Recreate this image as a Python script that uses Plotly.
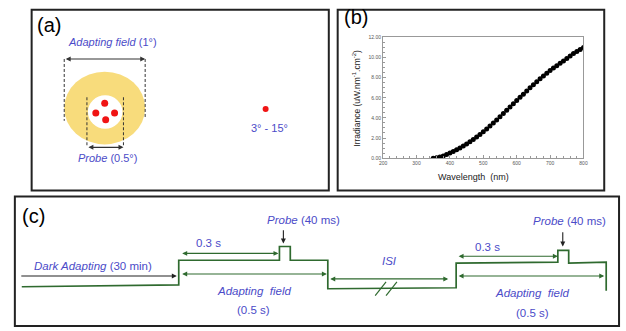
import plotly.graph_objects as go

# ---------------- data: panel (b) irradiance spectrum ----------------
wavelength_nm = list(range(350, 801, 10))
irradiance = [0.00, 0.05, 0.12, 0.22, 0.35, 0.50, 0.66, 0.83, 1.01, 1.20,
              1.40, 1.62, 1.85, 2.09, 2.35, 2.62, 2.90, 3.19, 3.49, 3.80,
              4.11, 4.43, 4.75, 5.07, 5.40, 5.72, 6.04, 6.36, 6.68, 6.99,
              7.30, 7.60, 7.89, 8.17, 8.44, 8.70, 8.95, 9.19, 9.42, 9.66,
              9.90, 10.15, 10.40, 10.60, 10.80, 11.00]
x_ticks = [200, 300, 400, 500, 600, 700, 800]
y_ticks = [0, 2, 4, 6, 8, 10, 12]
y_ticklabels = ["0.00", "2.00", "4.00", "6.00", "8.00", "10.00", "12.00"]

# ---------------- schematic geometry (pixel layout axis) ----------------
wave_x = [18, 177, 177, 279, 279, 290, 290, 328, 328, 458, 458, 561, 561, 572, 572, 610, 610]
wave_y = [289, 287, 262, 262, 248, 248, 262, 262, 291, 290, 265, 264, 252, 252, 265, 264, 293]

probe_dots_x = [102, 93, 112, 103]
probe_dots_y = [102, 112, 112, 119]
periph_dot_x = [265]
periph_dot_y = [108]

BLUE = "#4b4bc8"
GREEN = "#2f6a2f"
DARK = "#333333"
FONT = "Liberation Sans, Arial, sans-serif"

fig = go.Figure()

# panel (b) curve
fig.add_trace(go.Scatter(
    x=wavelength_nm, y=irradiance, mode="lines+markers",
    line=dict(color="black", width=1),
    marker=dict(color="black", size=5),
    xaxis="x", yaxis="y", showlegend=False, hoverinfo="skip"))

# waveform for panel (c)
fig.add_trace(go.Scatter(
    x=wave_x, y=wave_y, mode="lines",
    line=dict(color=GREEN, width=1.7),
    xaxis="x2", yaxis="y2", showlegend=False, hoverinfo="skip"))

# red probe dots
fig.add_trace(go.Scatter(
    x=probe_dots_x, y=probe_dots_y, mode="markers",
    marker=dict(color="#f01414", size=7),
    xaxis="x2", yaxis="y2", showlegend=False, hoverinfo="skip"))
fig.add_trace(go.Scatter(
    x=periph_dot_x, y=periph_dot_y, mode="markers",
    marker=dict(color="#f01414", size=6),
    xaxis="x2", yaxis="y2", showlegend=False, hoverinfo="skip"))

shapes = []
def rect(x0, y0, x1, y1, color="#222222", width=2):
    shapes.append(dict(type="rect", xref="x2", yref="y2", x0=x0, y0=y0, x1=x1, y1=y1,
                       line=dict(color=color, width=width), fillcolor="rgba(0,0,0,0)"))
def line(x0, y0, x1, y1, color=DARK, width=1, dash="solid"):
    shapes.append(dict(type="line", xref="x2", yref="y2", x0=x0, y0=y0, x1=x1, y1=y1,
                       line=dict(color=color, width=width, dash=dash)))

# panel frames
rect(28, 7, 329, 191)
rect(338, 7, 608, 191)
rect(11, 197, 623, 329)

# panel (a) circles
shapes.append(dict(type="circle", xref="x2", yref="y2", x0=61, y0=70, x1=143, y1=144,
                   line=dict(width=0), fillcolor="#f8dc7c", layer="below"))
shapes.append(dict(type="circle", xref="x2", yref="y2", x0=85, y0=94, x1=120, y1=128,
                   line=dict(width=0), fillcolor="white", layer="below"))
# dashed guides
DASH = "3px,2px"
line(61, 57, 61, 120, dash=DASH)
line(143, 57, 143, 118, dash=DASH)
line(84, 96, 84, 146, dash=DASH)
line(121, 96, 121, 146, dash=DASH)

# ISI break marks
line(376, 298, 387, 284, color=GREEN, width=1.2)
line(387, 298, 398, 284, color=GREEN, width=1.2)

annotations = []
def arrow(x0, y0, x1, y1, color=DARK, both=False):
    annotations.append(dict(
        xref="x2", yref="y2", axref="x2", ayref="y2",
        x=x1, y=y1, ax=x0, ay=y0, text="", showarrow=True,
        arrowhead=2, startarrowhead=2, arrowsize=0.9, startarrowsize=0.9,
        arrowwidth=1.1, arrowcolor=color, arrowside="end+start" if both else "end",
        standoff=0, startstandoff=0))

def text(x, y, s, size=11.5, color=BLUE, angle=0):
    annotations.append(dict(xref="x2", yref="y2", x=x, y=y, text=s, showarrow=False,
                            font=dict(family=FONT, size=size, color=color),
                            xanchor="center", yanchor="middle", textangle=angle))

# panel (a)
text(46, 22, "(a)", size=20, color="black")
text(110, 40, "<i>Adapting field</i> (1°)", size=11)
arrow(61, 57, 143, 57, both=True)
arrow(84, 147, 121, 147, both=True)
text(105, 158, "<i>Probe</i> (0.5°)", size=11)
text(269, 127, "3° - 15°", size=11)

# panel (b)
text(357, 14, "(b)", size=20, color="black")
text(476, 177, "Wavelength  (nm)", size=9, color="#222222")
text(357, 97, "Irradiance (uW.nm<sup>-1</sup>.cm<sup>-2</sup>)", size=8.5, color="#222222", angle=-90)

# panel (c)
text(30, 217, "(c)", size=20, color="black")
text(90, 268, "<i>Dark Adapting</i> (30 min)")
arrow(16, 278, 175, 278, color="#222222")
text(207, 244, "0.3 s")
arrow(179, 255, 278, 255, color=GREEN, both=True)
text(303, 221, "<i>Probe</i> (40 ms)")
arrow(283, 230, 283, 245, color="#222222")
arrow(179, 276, 327, 276, color=GREEN, both=True)
text(253, 293, "<i>Adapting  field</i>")
text(253, 313, "(0.5 s)")
text(390, 263, "<i>ISI</i>")
arrow(329, 281, 450, 281, color=GREEN, both=True)
text(490, 248, "0.3 s")
arrow(459, 258, 561, 258, color=GREEN, both=True)
text(573, 222, "<i>Probe</i> (40 ms)")
arrow(566, 232, 566, 248, color="#222222")
arrow(459, 278, 608, 278, color=GREEN, both=True)
text(535, 295, "<i>Adapting  field</i>")
text(535, 316, "(0.5 s)")

W, H = 626, 331
fig.update_layout(
    width=W, height=H, margin=dict(l=0, r=0, t=0, b=0),
    paper_bgcolor="white", plot_bgcolor="rgba(0,0,0,0)",
    shapes=shapes, annotations=annotations,
    xaxis=dict(domain=[384 / W, 587 / W], range=[200, 800], anchor="y",
               tickvals=x_ticks, ticks="inside", ticklen=3, tickcolor="#999999",
               tickfont=dict(family=FONT, size=5, color="#555555"),
               showline=True, linecolor="#999999", linewidth=1, mirror=True,
               showgrid=False, zeroline=False,
               minor=dict(dtick=20, ticks="inside", ticklen=2, tickcolor="#999999")),
    yaxis=dict(domain=[(H - 158) / H, (H - 35) / H], range=[0, 12], anchor="x",
               tickvals=y_ticks, ticktext=y_ticklabels, ticks="inside", ticklen=3,
               tickcolor="#999999", tickfont=dict(family=FONT, size=5, color="#555555"),
               showline=True, linecolor="#999999", linewidth=1, mirror=True,
               showgrid=False, zeroline=False,
               minor=dict(dtick=0.5, ticks="inside", ticklen=2, tickcolor="#999999")),
    xaxis2=dict(domain=[0, 1], range=[0, W], anchor="y2", visible=False, fixedrange=True),
    yaxis2=dict(domain=[0, 1], range=[H, 0], anchor="x2", visible=False, fixedrange=True),
)

fig.write_html("out.html", config={"displayModeBar": False})

# remove the browser's default page margin so the figure sits at (0, 0)
with open("out.html", "r", encoding="utf-8") as f:
    html = f.read()
html = html.replace("<body>", '<body style="margin:0;padding:0;overflow:hidden">', 1)
with open("out.html", "w", encoding="utf-8") as f:
    f.write(html)
